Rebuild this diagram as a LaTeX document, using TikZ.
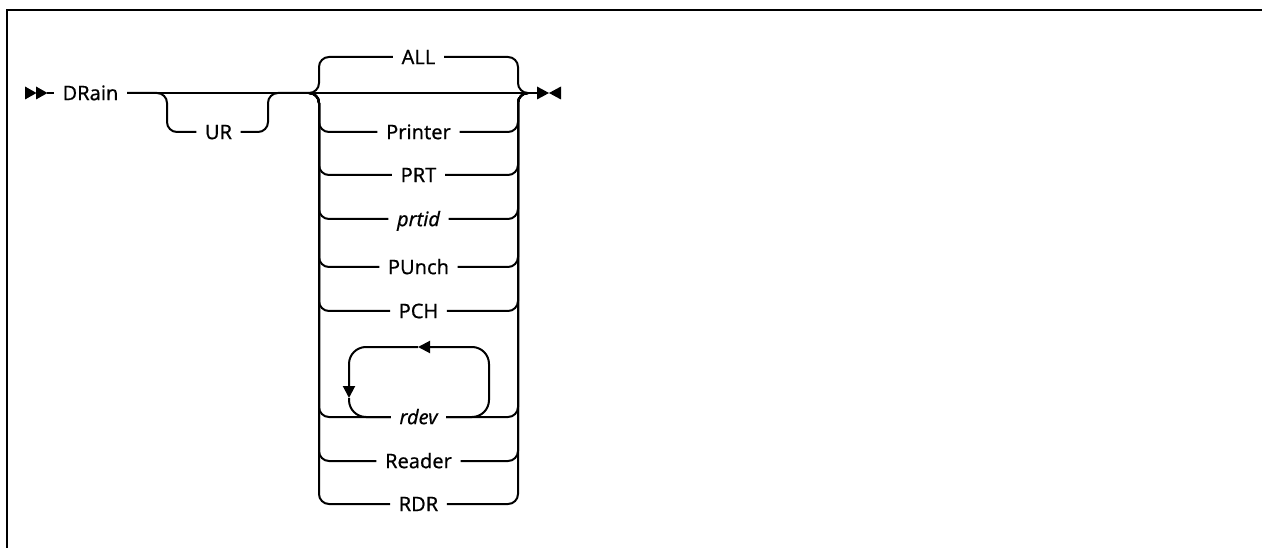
\documentclass[tikz,border=0pt]{standalone}
\usepackage{fontspec}
\setmainfont{Noto Sans}[FakeBold=0.45, AutoFakeBold=0.45]
\usepackage{xcolor}
\usepackage{tikz}
\usetikzlibrary{arrows.meta}

\newcommand{\synfont}{\fontsize{20}{23}\selectfont\bfseries}

\begin{document}
\begin{tikzpicture}[x=1pt, y=-1pt,
  rr/.style={line width=2pt, rounded corners=10pt},
  loopline/.style={line width=2pt, rounded corners=17pt},
  kw/.style={font=\synfont, inner xsep=8.5pt, inner ysep=0pt, text height=14.3pt, text depth=0pt},
  var/.style={kw, font=\synfont\itshape},
  loopend/.style={-{Triangle[length=12pt, width=12pt]}}]
  \useasboundingbox (0,0) rectangle (1262,548);
  % Frame
  \draw[line width=2.6pt] (7,548) -- (7,10) -- (1262,10);
  % Start marker
  \fill (25,86.5) -- (36.5,93) -- (25,99.5) -- cycle;
  \fill (36,86.5) -- (47.5,93) -- (36,99.5) -- cycle;
  \coordinate (begin) at (47,93);
  \node[kw] (drain) at (90.5,93) {DRain};
  \draw[rr] (begin) -- (drain.west);
  % Optional UR
  \coordinate (urL) at (167,93);
  \coordinate (urR) at (268,93);
  \coordinate (jin) at (309,93);
  \node[kw] (ur) at (218.5,132) {UR};
  \draw[rr] (drain.east) -- (jin);
  \draw[rr] (drain.east) -- (urL) -- (urL |- ur) -- (ur.west);
  \draw[rr] (ur.east) -- (urR |- ur) -- (urR) -- (jin);
  % Choice rails
  \coordinate (L) at (319,93);
  \coordinate (R) at (518,93);
  \coordinate (jout) at (528,93);
  \coordinate (stop) at (537,93);
  \node[kw] (all) at (418.5,57) {ALL};
  \node[kw] (prn) at (418.5,132) {Printer};
  \node[kw] (prt) at (418.5,175) {PRT};
  \node[var] (prtid) at (418.5,219) {prtid};
  \node[kw] (pun) at (418.5,267) {PUnch};
  \node[kw] (pch) at (418.5,311) {PCH};
  \node[var] (rdev) at (418.5,417) {rdev};
  \node[kw] (reader) at (418.5,461) {Reader};
  \node[kw] (rdr) at (418.5,504) {RDR};
  \draw[rr] (jin) -- (jout) -- (stop);
  \draw[rr] (jin) -- (L) -- (L |- all) -- (all.west);
  \draw[rr] (all.east) -- (R |- all) -- (R) -- (jout);
  \foreach \n in {prn,prt,prtid,pun,pch,rdev,reader,rdr} {
    \draw[rr] (jin) -- (L) -- (L |- \n) -- (\n.west);
    \draw[rr] (\n.east) -- (R |- \n) -- (R) -- (jout);
  }
  % Repeat loop on rdev
  \coordinate (lpr) at (489,347);
  \coordinate (lpl) at (349,347);
  \coordinate (tipa) at (418,347);
  \coordinate (tipb) at (349,398);
  \draw[loopline, loopend] (rdev.east) -- (lpr |- rdev) -- (lpr) -- (tipa);
  \draw[loopline, loopend] (tipa) -- (lpl) -- (tipb);
  \draw[loopline] (tipb) -- (lpl |- rdev) -- (rdev.west);
  % End marker
  \fill (537,86.5) -- (549,93) -- (537,99.5) -- cycle;
  \fill (561,86.5) -- (549,93) -- (561,99.5) -- cycle;
\end{tikzpicture}
\end{document}
